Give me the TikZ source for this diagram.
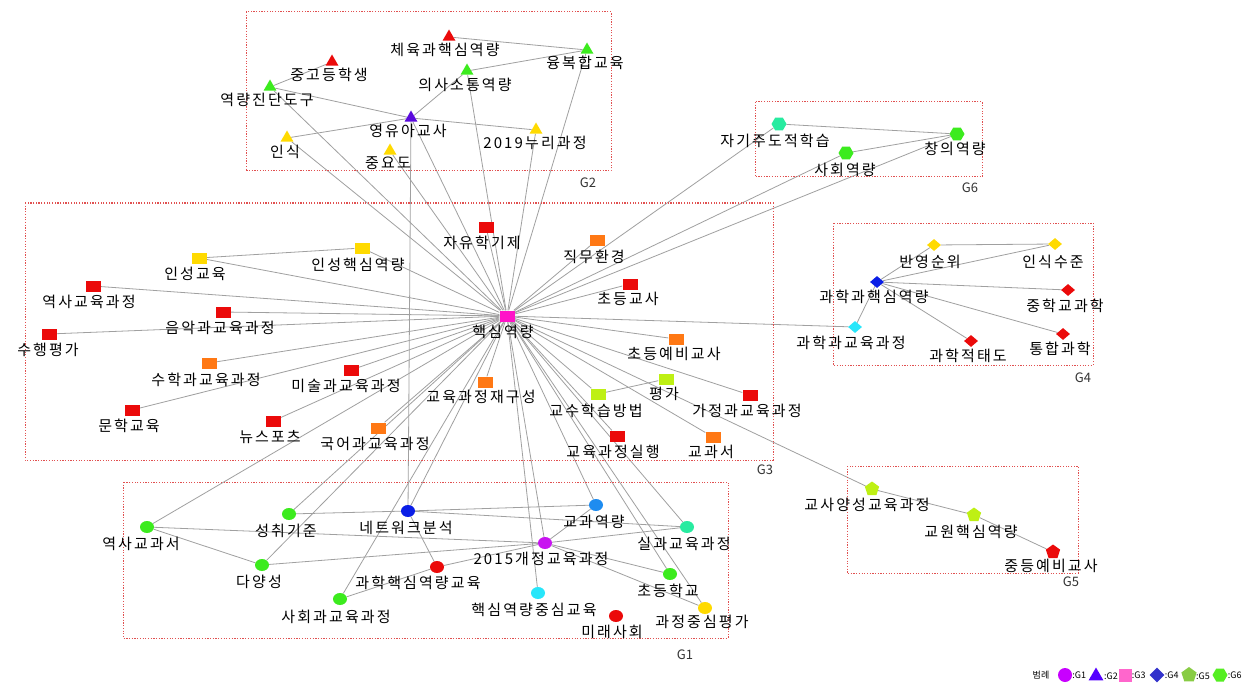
\documentclass[tikz,border=0pt]{standalone}
\usepackage{fontspec}
\usetikzlibrary{shapes.geometric}
\newfontfamily\kfont[LetterSpace=14]{Noto Sans CJK KR}
\newfontfamily\kplain{Noto Sans CJK KR}

% node colours
\definecolor{cRed}{RGB}{235,10,10}
\definecolor{cOrange}{RGB}{255,120,20}
\definecolor{cYellow}{RGB}{255,218,0}
\definecolor{cGreen}{RGB}{60,235,30}
\definecolor{cAqua}{RGB}{40,235,160}
\definecolor{cCyan}{RGB}{40,230,250}
\definecolor{cBlue}{RGB}{10,30,230}
\definecolor{cLBlue}{RGB}{30,140,240}
\definecolor{cPurple}{RGB}{200,20,240}
\definecolor{cViolet}{RGB}{90,10,220}
\definecolor{cMagenta}{RGB}{255,20,200}
\definecolor{cYG}{RGB}{190,240,20}
% legend colours
\definecolor{lgPurple}{RGB}{200,0,255}
\definecolor{lgViolet}{RGB}{85,0,255}
\definecolor{lgPink}{RGB}{255,102,204}
\definecolor{lgBlue}{RGB}{51,51,204}
\definecolor{lgYG}{RGB}{136,204,68}
\definecolor{lgGreen}{RGB}{85,238,34}
% lines and group frames
\definecolor{linkgray}{RGB}{160,160,160}
\definecolor{grpred}{RGB}{225,80,80}

\pgfdeclarelayer{paper}
\pgfdeclarelayer{edges}
\pgfsetlayers{paper,edges,main}

\begin{document}
\begin{tikzpicture}[x=1pt,y=-1pt,
  sq/.style={rectangle,minimum width=15pt,minimum height=11pt,inner sep=0pt},
  dot/.style={ellipse,minimum width=14pt,minimum height=12pt,inner sep=0pt},
  tri/.style={regular polygon,regular polygon sides=3,minimum size=15pt,inner sep=0pt},
  dia/.style={diamond,minimum width=14pt,minimum height=12pt,inner sep=0pt},
  pent/.style={regular polygon,regular polygon sides=5,minimum size=15pt,inner sep=0pt},
  hexa/.style={regular polygon,regular polygon sides=6,minimum size=15pt,inner sep=0pt},
  lbl/.style={font=\kfont\fontsize{15}{17}\selectfont,inner sep=0pt},
  grp/.style={draw=grpred,line width=1pt,dash pattern=on 1.2pt off 1.5pt},
  glbl/.style={font=\kplain\fontsize{13}{15}\selectfont,text=black!80,inner sep=0pt},
  link/.style={draw=linkgray,line width=0.8pt},
  lgtxt/.style={font=\kplain\fontsize{9}{10}\selectfont,inner sep=0pt,anchor=west},
]
\begin{pgfonlayer}{paper}
  \path[use as bounding box,fill=white] (0,0) rectangle (1244,687);
\end{pgfonlayer}

% ---------- group frames ----------
\draw[grp] (246,12) rectangle (611,171);
\node[glbl] (g2) at (588,183) {G2};
\draw[grp] (755,102) rectangle (982,177);
\node[glbl] (g6) at (970,188) {G6};
\draw[grp] (833,223) rectangle (1093,365);
\node[glbl] (g4) at (1083,378) {G4};
\draw[grp] (847,466) rectangle (1078,573);
\node[glbl] (g5) at (1071,582) {G5};
\draw[grp] (25,203) rectangle (773,460);
\node[glbl] (g3) at (765,470) {G3};
\draw[grp] (123,482) rectangle (728,638);
\node[glbl] (g1) at (685,655) {G1};

% ---------- G2 ----------
\node[tri,fill=cRed]    (t1) at (449,37)  {};
\node[lbl] (t1l) at (445,50)  {체육과핵심역량};
\node[tri,fill=cRed]    (t2) at (332,62)  {};
\node[lbl] (t2l) at (329,75)  {중고등학생};
\node[tri,fill=cGreen]  (t3) at (587,50)  {};
\node[lbl] (t3l) at (585,63)  {융복합교육};
\node[tri,fill=cGreen]  (t4) at (467,71)  {};
\node[lbl] (t4l) at (465,85)  {의사소통역량};
\node[tri,fill=cGreen]  (t5) at (270,87)  {};
\node[lbl] (t5l) at (267,100) {역량진단도구};
\node[tri,fill=cViolet] (t6) at (411,118) {};
\node[lbl] (t6l) at (408,131) {영유아교사};
\node[tri,fill=cYellow] (t7) at (536,130) {};
\node[lbl] (t7l) at (535,143) {2019누리과정};
\node[tri,fill=cYellow] (t8) at (287,138) {};
\node[lbl] (t8l) at (285,152) {인식};
\node[tri,fill=cYellow] (t9) at (390,151) {};
\node[lbl] (t9l) at (388,163) {중요도};

% ---------- G6 ----------
\node[hexa,fill=cAqua]  (h1) at (779,124) {};
\node[lbl] (h1l) at (775,141) {자기주도적학습};
\node[hexa,fill=cGreen] (h2) at (957,134) {};
\node[lbl] (h2l) at (955,149) {창의역량};
\node[hexa,fill=cGreen] (h3) at (846,153) {};
\node[lbl] (h3l) at (845,170) {사회역량};

% ---------- G4 ----------
\node[dia,fill=cYellow] (d1) at (934,245) {};
\node[lbl] (d1l) at (930,262) {반영순위};
\node[dia,fill=cYellow] (d2) at (1055,244) {};
\node[lbl] (d2l) at (1053,262) {인식수준};
\node[dia,fill=cBlue]   (d3) at (877,282) {};
\node[lbl] (d3l) at (874,297) {과학과핵심역량};
\node[dia,fill=cRed]    (d4) at (1068,290) {};
\node[lbl] (d4l) at (1065,306) {중학교과학};
\node[dia,fill=cCyan]   (d5) at (855,327) {};
\node[lbl] (d5l) at (851,343) {과학과교육과정};
\node[dia,fill=cRed]    (d6) at (971,341) {};
\node[lbl] (d6l) at (968,356) {과학적태도};
\node[dia,fill=cRed]    (d7) at (1063,334) {};
\node[lbl] (d7l) at (1060,349) {통합과학};

% ---------- G5 ----------
\node[pent,fill=cYG]  (p1) at (872,489) {};
\node[lbl] (p1l) at (867,505) {교사양성교육과정};
\node[pent,fill=cYG]  (p2) at (974,515) {};
\node[lbl] (p2l) at (971,532) {교원핵심역량};
\node[pent,fill=cRed] (p3) at (1053,552) {};
\node[lbl] (p3l) at (1051,566) {중등예비교사};

% ---------- G3 ----------
\node[sq,fill=cMagenta] (hub) at (507,316) {};
\node[lbl] (hubl) at (503,332) {핵심역량};
\node[sq,fill=cRed]    (s1)  at (486,227) {};
\node[lbl] (s1l)  at (482,243) {자유학기제};
\node[sq,fill=cOrange] (s2)  at (597,240) {};
\node[lbl] (s2l)  at (594,257) {직무환경};
\node[sq,fill=cYellow] (s3)  at (199,258) {};
\node[lbl] (s3l)  at (195,274) {인성교육};
\node[sq,fill=cYellow] (s4)  at (362,248) {};
\node[lbl] (s4l)  at (358,265) {인성핵심역량};
\node[sq,fill=cRed]    (s5)  at (93,286)  {};
\node[lbl] (s5l)  at (89,302)  {역사교육과정};
\node[sq,fill=cRed]    (s6)  at (630,284) {};
\node[lbl] (s6l)  at (628,299) {초등교사};
\node[sq,fill=cRed]    (s7)  at (223,312) {};
\node[lbl] (s7l)  at (220,328) {음악과교육과정};
\node[sq,fill=cRed]    (s8)  at (49,334)  {};
\node[lbl] (s8l)  at (48,350)  {수행평가};
\node[sq,fill=cOrange] (s9)  at (676,339) {};
\node[lbl] (s9l)  at (674,354) {초등예비교사};
\node[sq,fill=cOrange] (s10) at (209,363) {};
\node[lbl] (s10l) at (206,380) {수학과교육과정};
\node[sq,fill=cRed]    (s11) at (351,370) {};
\node[lbl] (s11l) at (346,386) {미술과교육과정};
\node[sq,fill=cOrange] (s12) at (485,382) {};
\node[lbl] (s12l) at (481,397) {교육과정재구성};
\node[sq,fill=cYG]     (s13) at (666,379) {};
\node[lbl] (s13l) at (664,394) {평가};
\node[sq,fill=cYG]     (s14) at (598,394) {};
\node[lbl] (s14l) at (596,411) {교수학습방법};
\node[sq,fill=cRed]    (s15) at (750,395) {};
\node[lbl] (s15l) at (747,411) {가정과교육과정};
\node[sq,fill=cRed]    (s16) at (132,410) {};
\node[lbl] (s16l) at (129,426) {문학교육};
\node[sq,fill=cRed]    (s17) at (273,421) {};
\node[lbl] (s17l) at (270,437) {뉴스포츠};
\node[sq,fill=cOrange] (s18) at (378,428) {};
\node[lbl] (s18l) at (375,444) {국어과교육과정};
\node[sq,fill=cRed]    (s19) at (617,436) {};
\node[lbl] (s19l) at (613,452) {교육과정실행};
\node[sq,fill=cOrange] (s20) at (713,437) {};
\node[lbl] (s20l) at (711,452) {교과서};

% ---------- G1 ----------
\node[dot,fill=cGreen]  (c1)  at (289,514) {};
\node[lbl] (c1l)  at (286,531) {성취기준};
\node[dot,fill=cBlue]   (c2)  at (408,511) {};
\node[lbl] (c2l)  at (406,528) {네트워크분석};
\node[dot,fill=cLBlue]  (c3)  at (596,505) {};
\node[lbl] (c3l)  at (594,522) {교과역량};
\node[dot,fill=cGreen]  (c4)  at (147,527) {};
\node[lbl] (c4l)  at (141,544) {역사교과서};
\node[dot,fill=cAqua]   (c5)  at (687,527) {};
\node[lbl] (c5l)  at (684,544) {실과교육과정};
\node[dot,fill=cPurple] (c6)  at (545,543) {};
\node[lbl] (c6l)  at (541,559) {2015개정교육과정};
\node[dot,fill=cGreen]  (c7)  at (262,565) {};
\node[lbl] (c7l)  at (259,582) {다양성};
\node[dot,fill=cRed]    (c8)  at (437,567) {};
\node[lbl] (c8l)  at (418,583) {과학핵심역량교육};
\node[dot,fill=cGreen]  (c9)  at (670,574) {};
\node[lbl] (c9l)  at (668,591) {초등학교};
\node[dot,fill=cGreen]  (c10) at (340,599) {};
\node[lbl] (c10l) at (336,617) {사회과교육과정};
\node[dot,fill=cCyan]   (c11) at (538,593) {};
\node[lbl] (c11l) at (534,610) {핵심역량중심교육};
\node[dot,fill=cYellow] (c12) at (705,608) {};
\node[lbl] (c12l) at (702,622) {과정중심평가};
\node[dot,fill=cRed]    (c13) at (616,616) {};
\node[lbl] (c13l) at (612,632) {미래사회};

% ---------- connectors ----------
\begin{pgfonlayer}{edges}
  % edges into the central node
  \foreach \n in {t3,t5,t6,t7,t8,t9,t4,s1,h1,h2,h3,d5,p1,
                  s2,s3,s4,s5,s6,s7,s8,s9,s10,s11,s12,s14,s15,s16,s17,s18,s19,s20,
                  c1,c2,c3,c4,c5,c6,c7,c9,c10,c11,c12}
    \draw[link] (hub) -- (\n);
  % G2
  \draw[link] (t1) -- (t3);
  \draw[link] (t4) -- (t3);
  \draw[link] (t2) -- (t5);
  \draw[link] (t5) -- (t6);
  \draw[link] (t6) -- (t4);
  \draw[link] (t6) -- (t7);
  \draw[link] (t8) -- (t6);
  \draw[link] (t6) -- (c2);
  % G6
  \draw[link] (h1) -- (h2);
  \draw[link] (h3) -- (h2);
  % G4
  \draw[link] (d1) -- (d2);
  \draw[link] (d3) -- (d1);
  \draw[link] (d3) -- (d2);
  \draw[link] (d3) -- (d4);
  \draw[link] (d3) -- (d7);
  \draw[link] (d3) -- (d6);
  \draw[link] (d3) -- (d5);
  % G5
  \draw[link] (p1) -- (p2);
  \draw[link] (p2) -- (p3);
  % G3
  \draw[link] (s3) -- (s4);
  \draw[link] (s14) -- (s13);
  % G1
  \draw[link] (c1) -- (c2);
  \draw[link] (c4) -- (c7);
  \draw[link] (c4) -- (c6);
  \draw[link] (c7) -- (c6);
  \draw[link] (c8) -- (c6);
  \draw[link] (c10) -- (c8);
  \draw[link] (c2) -- (c8);
  \draw[link] (c2) -- (c3);
  \draw[link] (c2) -- (c5);
  \draw[link] (c6) -- (c3);
  \draw[link] (c6) -- (c5);
  \draw[link] (c6) -- (c9);
  \draw[link] (c6) -- (c12);
\end{pgfonlayer}

% ---------- legend ----------
\node[font=\kplain\fontsize{9}{10}\selectfont,inner sep=0pt] (lgt) at (1041,675) {범례};
\node[circle,minimum size=14pt,inner sep=0pt,fill=lgPurple] (lg1) at (1065,675) {};
\node[lgtxt] (lg1t) at (lg1.east) {:G1};
\node[regular polygon,regular polygon sides=3,minimum size=17pt,inner sep=0pt,fill=lgViolet] (lg2) at (1096,676) {};
\node[lgtxt] (lg2t) at (1104,676) {:G2};
\node[rectangle,minimum size=13pt,inner sep=0pt,fill=lgPink] (lg3) at (1125,675) {};
\node[lgtxt] (lg3t) at (lg3.east) {:G3};
\node[diamond,minimum size=15pt,inner sep=0pt,fill=lgBlue] (lg4) at (1157,675) {};
\node[lgtxt] (lg4t) at (lg4.east) {:G4};
\node[regular polygon,regular polygon sides=5,minimum size=16pt,inner sep=0pt,fill=lgYG] (lg5) at (1189,675) {};
\node[lgtxt] (lg5t) at (1196,676) {:G5};
\node[regular polygon,regular polygon sides=6,minimum size=15pt,inner sep=0pt,fill=lgGreen] (lg6) at (1220,675) {};
\node[lgtxt] (lg6t) at (lg6.east) {:G6};
\end{tikzpicture}
\end{document}
